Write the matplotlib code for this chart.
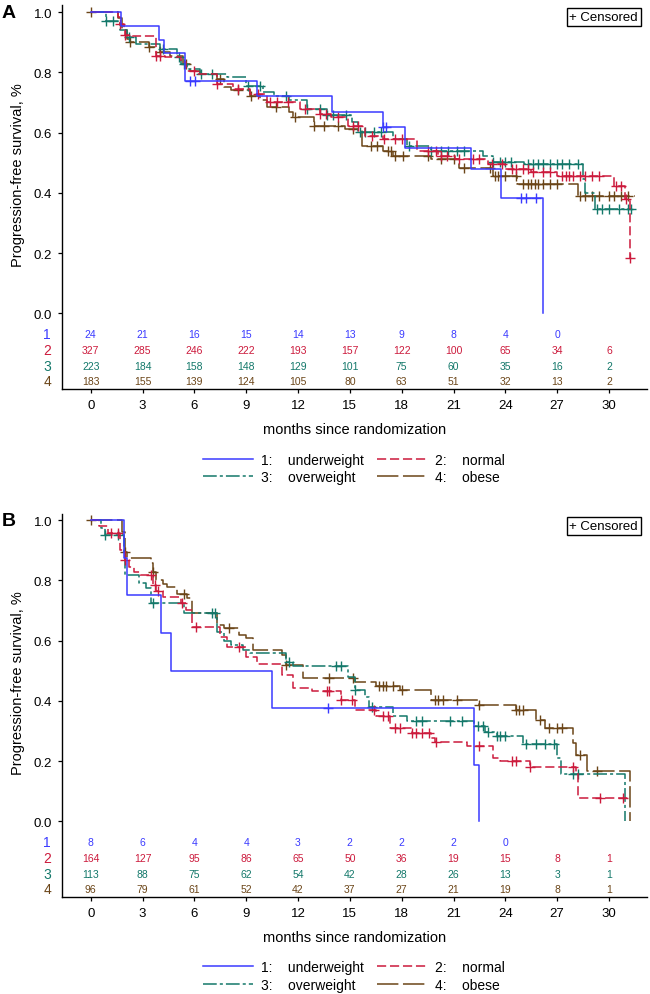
import numpy as np
import matplotlib
matplotlib.use("Agg")
import matplotlib.pyplot as plt
from matplotlib.lines import Line2D

plt.rcParams['font.family'] = ['Liberation Sans', 'DejaVu Sans']

# group names and colours
groups = ['1', '2', '3', '4']
group_names = ['underweight', 'normal', 'overweight', 'obese']
colors = ['#3a3aff', '#cc1a3c', '#13786a', '#6b4518']
styles = ['-', (0, (6, 2.5)), (0, (9, 2, 2, 2)), (0, (14, 3))]

month_ticks = [0, 3, 6, 9, 12, 15, 18, 21, 24, 27, 30]

# ---- panel A, step curves (months, survival)
A1_t = [0, 1.73, 3.97, 4.26, 5.47, 9.6, 13.94, 16.89, 18.22, 22.03, 23.73, 26.2]
A1_s = [1.0, 0.955, 0.909, 0.865, 0.773, 0.721, 0.670, 0.620, 0.549, 0.479, 0.384, 0.0]
A1_c = [5.75, 6.05, 16.9, 17.1, 24.9, 25.2, 25.8]

A2_t = [0, 1.6, 1.7, 1.9, 2.0, 2.4, 3.8, 4.3, 5.2, 5.5, 6.1, 7.3, 8.25, 9.2, 10.2,
        12.1, 13.3, 13.9, 14.9, 15.9, 16.9, 18.9, 20.1, 21.1, 23.0, 24.0, 25.5, 27.0,
        30.3, 30.9, 31.2]
A2_s = [1.0, 0.985, 0.96, 0.94, 0.925, 0.92, 0.855, 0.85, 0.834, 0.806, 0.795, 0.761,
        0.745, 0.728, 0.701, 0.679, 0.662, 0.651, 0.623, 0.590, 0.579, 0.540, 0.523,
        0.512, 0.496, 0.479, 0.468, 0.457, 0.424, 0.380, 0.184]
A2_c = [1.7, 2.0, 3.8, 4.0, 6.0, 7.3, 8.5, 9.7, 10.4, 10.8, 11.4, 12.4, 13.3, 13.6, 14.3,
        15.2, 15.5, 16.3, 17.0, 17.6, 18.0, 19.5, 20.0, 20.3, 20.6, 21.3, 22.1, 22.5,
        23.2, 23.8, 24.4, 24.6, 25.0, 25.3, 25.6, 26.2, 26.6, 27.3, 27.5, 27.7, 27.9,
        28.3, 28.6, 29.0, 29.4, 30.4, 30.7, 31.0, 31.2]

A3_t = [0, 0.9, 1.7, 2.1, 2.6, 4.0, 5.0, 5.2, 5.55, 6.3, 7.9, 9.0, 10.0, 10.6, 11.5,
        12.5, 13.65, 15.1, 15.5, 17.5, 18.3, 19.7, 22.7, 23.3, 25.1, 28.5, 28.6, 29.2]
A3_s = [1.0, 0.97, 0.94, 0.917, 0.895, 0.878, 0.851, 0.829, 0.811, 0.795, 0.784, 0.756,
        0.734, 0.723, 0.707, 0.679, 0.659, 0.634, 0.601, 0.579, 0.557, 0.540, 0.523,
        0.501, 0.496, 0.446, 0.401, 0.348]
A3_c = [0.9, 1.3, 2.2, 4.2, 5.1, 5.4, 6.4, 7.0, 9.1, 9.8, 11.3, 12.5, 13.3, 13.7, 14.0,
        14.8, 15.6, 15.9, 16.4, 16.8, 18.4, 19.7, 20.3, 20.7, 21.2, 21.6, 23.3, 23.7,
        24.0, 24.3, 25.3, 25.6, 25.9, 26.2, 26.6, 27.0, 27.3, 27.7, 28.2, 29.3, 29.6,
        30.0, 30.6, 31.1, 31.3]

A4_t = [0, 1.6, 1.8, 2.1, 2.3, 3.4, 4.0, 4.6, 5.35, 5.74, 6.3, 7.3, 7.7, 8.1, 9.2, 9.8,
        10.2, 11.5, 11.7, 12.9, 14.7, 15.7, 16.9, 17.5, 19.7, 21.3, 23.3, 24.7, 28.2]
A4_s = [1.0, 0.98, 0.94, 0.91, 0.900, 0.883, 0.867, 0.855, 0.829, 0.806, 0.795, 0.778,
        0.751, 0.740, 0.723, 0.707, 0.684, 0.668, 0.651, 0.623, 0.612, 0.557, 0.540,
        0.523, 0.512, 0.484, 0.457, 0.429, 0.390]
A4_c = [0, 2.3, 3.4, 4.0, 5.5, 7.5, 8.5, 9.3, 10.7, 11.8, 12.9, 13.5, 14.3, 15.2, 16.2,
        16.6, 17.2, 17.4, 17.6, 18.1, 19.5, 20.3, 21.0, 21.6, 23.1, 23.4, 23.6, 24.0,
        24.6, 25.0, 25.3, 25.5, 25.7, 25.9, 26.2, 26.6, 27.0, 28.3, 28.6, 29.0, 29.4,
        30.0, 30.3, 30.7, 31.1]

A_end = [26.2, 31.25, 31.35, 31.5]

A_risk1 = [24, 21, 16, 15, 14, 13, 9, 8, 4, 0]
A_risk2 = [327, 285, 246, 222, 193, 157, 122, 100, 65, 34, 6]
A_risk3 = [223, 184, 158, 148, 129, 101, 75, 60, 35, 16, 2]
A_risk4 = [183, 155, 139, 124, 105, 80, 63, 51, 32, 13, 2]

# ---- panel B
B1_t = [0, 1.9, 2.08, 4.07, 4.64, 10.5, 22.17, 22.5]
B1_s = [1.0, 0.875, 0.75, 0.625, 0.5, 0.375, 0.1875, 0.0]
B1_c = [13.75]

B2_t = [0, 0.5, 1.0, 1.7, 2.0, 2.2, 2.5, 2.85, 3.6, 3.8, 4.2, 5.2, 5.5, 5.85, 7.5, 7.9,
        9.0, 9.6, 11.1, 11.7, 12.8, 14.5, 15.3, 16.5, 17.3, 18.6, 19.7, 19.9, 21.8,
        23.3, 23.7, 25.4, 28.1, 28.2]
B2_s = [1.0, 0.98, 0.956, 0.90, 0.867, 0.845, 0.829, 0.818, 0.785, 0.763, 0.746, 0.724,
        0.702, 0.645, 0.613, 0.578, 0.547, 0.522, 0.486, 0.442, 0.431, 0.403, 0.370,
        0.348, 0.309, 0.293, 0.276, 0.265, 0.249, 0.210, 0.199, 0.182, 0.160, 0.077]
B2_c = [1.2, 1.6, 2.0, 3.5, 3.7, 3.9, 5.3, 6.1, 8.6, 13.7, 13.8, 14.5, 15.1, 16.4, 16.9,
        17.2, 17.6, 17.9, 18.6, 18.8, 19.2, 19.6, 20.0, 22.5, 24.4, 24.6, 25.4, 27.9,
        29.5, 30.8]

B3_t = [0, 0.6, 0.8, 1.9, 2.0, 2.8, 3.2, 3.5, 5.4, 7.3, 7.7, 8.1, 8.8, 9.2, 11.3, 11.7,
        14.9, 15.3, 15.9, 16.1, 17.5, 18.3, 22.2, 22.8, 23.5, 25.0, 27.0, 27.2, 30.9]
B3_s = [1.0, 0.975, 0.95, 0.895, 0.818, 0.79, 0.774, 0.724, 0.69, 0.63, 0.597, 0.586,
        0.569, 0.558, 0.530, 0.514, 0.48, 0.436, 0.414, 0.381, 0.348, 0.332, 0.315,
        0.298, 0.282, 0.257, 0.21, 0.158, 0.0]
B3_c = [0.8, 1.6, 3.6, 7.0, 7.2, 11.5, 14.2, 14.5, 15.3, 16.3, 18.8, 19.2, 20.8, 21.5,
        22.4, 22.7, 23.0, 23.5, 23.7, 24.0, 25.2, 25.8, 26.3, 26.8, 27.9, 28.2]

B4_t = [0, 1.8, 2.0, 2.1, 3.5, 3.6, 3.8, 4.2, 4.4, 5.0, 5.55, 5.85, 7.3, 7.7, 8.6, 9.0,
        9.4, 11.1, 11.3, 12.3, 15.3, 16.5, 17.9, 19.7, 22.5, 24.6, 25.8, 26.3, 27.9,
        28.1, 28.7, 31.2]
B4_s = [1.0, 0.96, 0.895, 0.873, 0.856, 0.829, 0.80, 0.789, 0.778, 0.756, 0.74, 0.693,
        0.652, 0.641, 0.619, 0.608, 0.569, 0.553, 0.519, 0.475, 0.464, 0.448, 0.437,
        0.403, 0.385, 0.370, 0.337, 0.31, 0.26, 0.221, 0.166, 0.0]
B4_c = [0, 2.0, 3.6, 5.4, 8.0, 11.3, 13.8, 15.2, 16.7, 16.9, 17.1, 17.5, 18.0, 19.9,
        20.1, 20.4, 21.2, 22.5, 24.6, 24.8, 25.0, 26.0, 26.5, 27.0, 27.3, 28.3, 29.3]

B_end = [22.5, 31.3, 30.9, 31.2]

B_risk1 = [8, 6, 4, 4, 3, 2, 2, 2, 0]
B_risk2 = [164, 127, 95, 86, 65, 50, 36, 19, 15, 8, 1]
B_risk3 = [113, 88, 75, 62, 54, 42, 28, 26, 13, 3, 1]
B_risk4 = [96, 79, 61, 52, 42, 37, 27, 21, 19, 8, 1]

risk_rows = [-0.07, -0.122, -0.175, -0.226]


def surv_at(t, s, c):
    idx = np.searchsorted(t, c, side='right') - 1
    return np.array(s)[idx]


def panel(ax, curves, ends, risks, ymin, ytop, letter):
    for i, (t, s, c) in enumerate(curves):
        tt = list(t) + [ends[i]]
        ss = list(s) + [s[-1]]
        ax.step(tt, ss, where='post', color=colors[i], lw=1.1,
                linestyle=styles[i], zorder=3 + (3 - i))
        ax.plot(c, surv_at(t, s, c), '+', color=colors[i], ms=7, mew=1.0,
                zorder=3 + (3 - i))

    for i, row in enumerate(risks):
        for j, n in enumerate(row):
            ax.text(month_ticks[j], risk_rows[i], str(n), color=colors[i],
                    fontsize=7.5, ha='center', va='center')
        ax.text(-0.025, risk_rows[i], groups[i], color=colors[i], fontsize=10,
                ha='center', va='center',
                transform=ax.get_yaxis_transform())

    ax.set_xlim(-1.68, 32.2)
    ax.set_ylim(ymin, ytop)
    ax.set_xticks(month_ticks)
    ax.set_yticks([0.0, 0.2, 0.4, 0.6, 0.8, 1.0])
    ax.set_yticklabels(['0.0', '0.2', '0.4', '0.6', '0.8', '1.0'])
    ax.tick_params(labelsize=9.5, length=3, width=0.9, pad=4)
    ax.spines['top'].set_visible(False)
    ax.spines['right'].set_visible(False)
    ax.spines['left'].set_linewidth(1.0)
    ax.spines['bottom'].set_linewidth(1.0)
    ax.set_xlabel('months since randomization', fontsize=10.5, labelpad=8)
    ax.set_ylabel('Progression-free survival, %', fontsize=10.5)
    ax.yaxis.set_label_coords(-0.062, 0.56)
    ax.text(-0.09, 1.0, letter, fontsize=14, fontweight='bold',
            ha='center', va='center', transform=ax.get_yaxis_transform())
    ax.text(0.926, 0.969, '+ Censored', fontsize=9.5, ha='center', va='center',
            transform=ax.transAxes,
            bbox=dict(boxstyle='square,pad=0.2', fc='white', ec='black', lw=1.0))


fig = plt.figure(figsize=(6.5, 9.95), dpi=100)
axA = fig.add_axes([0.0949, 0.6077, 0.9005, 0.3863])
axB = fig.add_axes([0.0949, 0.0975, 0.9005, 0.3849])

panel(axA, [(A1_t, A1_s, A1_c), (A2_t, A2_s, A2_c), (A3_t, A3_s, A3_c), (A4_t, A4_s, A4_c)],
      A_end, [A_risk1, A_risk2, A_risk3, A_risk4], -0.2525, 1.024, 'A')
panel(axB, [(B1_t, B1_s, B1_c), (B2_t, B2_s, B2_c), (B3_t, B3_s, B3_c), (B4_t, B4_s, B4_c)],
      B_end, [B_risk1, B_risk2, B_risk3, B_risk4], -0.251, 1.02, 'B')

# legends (order so rows read 1 2 / 3 4)
handles = [Line2D([], [], color=colors[i], lw=1.1, linestyle=styles[i]) for i in range(4)]
labels = [groups[i] + ':    ' + group_names[i] for i in range(4)]
order = [0, 2, 1, 3]
for yc in [0.5284, 0.0183]:
    fig.legend([handles[k] for k in order], [labels[k] for k in order], ncol=2,
               loc='center', bbox_to_anchor=(354 / 650, yc), frameon=False,
               fontsize=10, handlelength=3.6, handletextpad=0.6, columnspacing=0.9,
               labelspacing=0.25)

fig.savefig('out.png', dpi=100)
